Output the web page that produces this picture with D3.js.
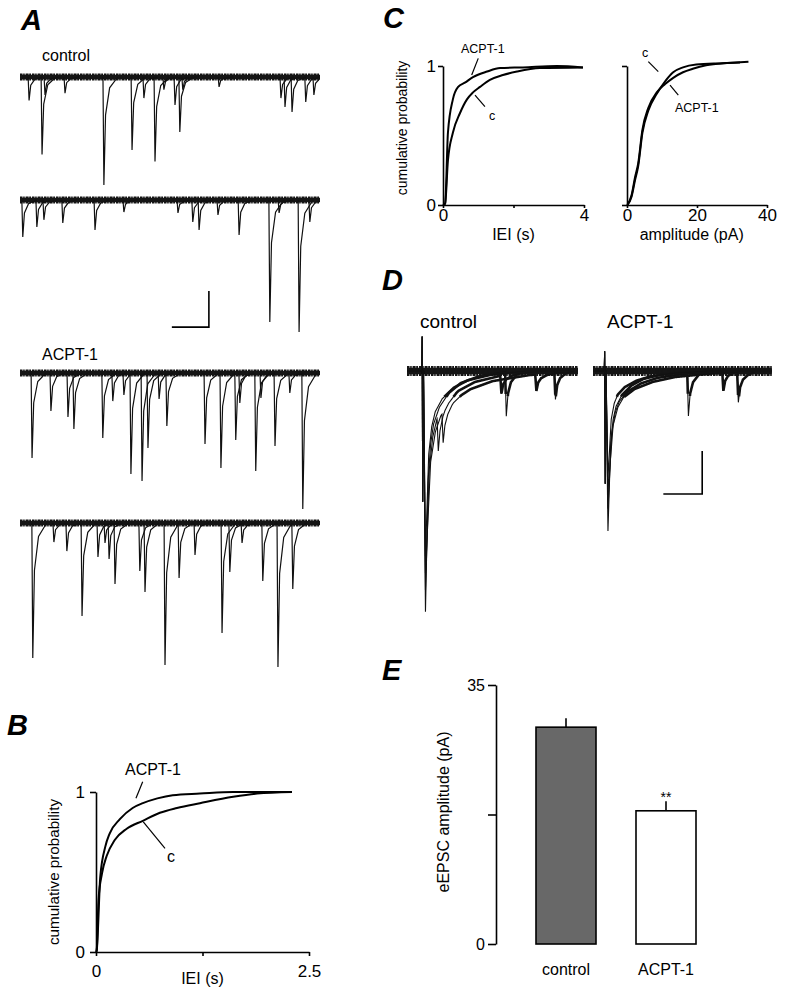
<!DOCTYPE html>
<html>
<head>
<meta charset="utf-8">
<script src="https://cdn.jsdelivr.net/npm/d3@7"></script>
<style>
body{margin:0;background:#fff}
svg{display:block;font-family:"Liberation Sans",Arial,sans-serif}
</style>
</head>
<body>
<script>
// ---- A: spontaneous events [time (s), amplitude (pA)] ----
const aCtrl1=[[0.22,13],[0.57,43],[0.65,10],[1.19,9],[2.24,60],[3.0,40.5],[3.32,11.7],[3.62,47],[3.86,7],[4.16,15.5],[4.29,30.5],[4.37,7],[5.35,5.5],[7.02,11.7],[7.13,16.7],[7.32,19.4],[7.69,13.9],[7.91,10]];
const aCtrl2=[[0.05,20.5],[0.43,15],[0.62,11],[1.13,12.8],[2.0,16.7],[2.78,6.7],[4.24,7.2],[4.64,12.2],[4.81,16.7],[5.32,8.3],[5.89,19.4],[6.72,67.8],[6.97,7.2],[7.51,73.3],[7.8,12.2]];
const aAcpt1=[[0.30,47.2],[0.81,21.1],[1.27,24.4],[1.43,31.1],[2.21,36.1],[2.48,15.6],[2.78,12.2],[2.97,56.1],[3.27,60],[3.43,41.7],[3.73,14.4],[3.94,29.4],[4.97,39.4],[5.4,52.8],[5.8,37.2],[5.91,16.7],[6.34,54.4],[6.48,13.9],[6.86,40.6],[7.26,11.1],[7.61,75.6]];
const aAcpt2=[[0.32,75],[0.89,10.6],[1.24,15.6],[1.65,51.7],[2.08,18.9],[2.27,11.1],[2.38,20],[2.54,33.9],[3.21,26.7],[3.35,38.3],[3.89,78.9],[4.27,30.6],[4.7,17.8],[5.43,61.1],[5.64,27.2],[5.97,11.1],[6.53,32.2],[6.94,80],[7.34,36.7]];
const aDuration=8.1;

// ---- B: cumulative IEI ----
const bIeiAcpt=[0,0.008,0.05,0.11,0.16,0.28,0.43,0.55,0.72,0.90,1.22,1.61,2.3];
const bProbAcpt=[0,0.01,0.47,0.66,0.74,0.83,0.90,0.93,0.96,0.98,0.99,1.0,1.0];
const bIeiCtrl=[0,0.008,0.03,0.07,0.125,0.22,0.36,0.55,0.75,0.95,1.22,1.61,1.89,2.3];
const bProbCtrl=[0,0.01,0.33,0.49,0.60,0.70,0.77,0.82,0.87,0.90,0.93,0.97,0.99,1.0];

// ---- C: cumulative IEI and amplitude ----
const cIeiAcpt=[0,0.06,0.14,0.28,0.43,0.62,0.85,1.25,1.62,2.27,3.23,3.97];
const cIeiProbAcpt=[0,0.01,0.52,0.76,0.85,0.88,0.92,0.96,0.985,0.99,1.0,0.99];
const cIeiCtrl=[0,0.06,0.14,0.28,0.48,0.68,0.85,1.05,1.33,1.7,2.1,2.75,3.97];
const cIeiProbCtrl=[0,0.01,0.32,0.52,0.66,0.76,0.81,0.85,0.90,0.935,0.96,0.985,0.99];
const cAmpCtrl=[0.1,1.3,2.3,3.2,4.4,6.1,8.5,10.9,13.2,16.0,19.8,27.5,34.7];
const cAmpProbCtrl=[0,0.06,0.18,0.28,0.52,0.68,0.80,0.89,0.955,0.99,1.01,1.02,1.03];
const cAmpAcpt=[0.1,1.3,2.3,3.2,4.4,6.1,8.5,10.9,13.2,16.0,18.8,22.6,27.5,32.3];
const cAmpProbAcpt=[0,0.07,0.2,0.3,0.54,0.70,0.81,0.87,0.915,0.955,0.98,1.005,1.02,1.025];

// ---- D: evoked EPSC sweeps ----
const dCtrlStim=7.7, dAcptStim=5.9;           // ms
const dCtrlEnd=88, dAcptEnd=92;
const dCtrlAmp=[280,255,235,215], dCtrlDecay=[1,1.4,1.9,1.2];
const dAcptAmp=[186,160,140,125], dAcptDecay=[1,1.4,1.9,1.2];
const dCtrlArtifact=[40,152], dAcptArtifact=[23,131];   // up, down (pA)
const dCtrlEvents=[[0,50.5,52],[1,48,21],[2,66,19],[3,75.8,33],[1,15.5,40],[2,18,35]]; // sweep, ms, pA
const dAcptEvents=[[0,48.5,52],[1,66.5,23],[2,74.2,35]];

// ---- E: eEPSC amplitude ----
const eGroups=["control","ACPT-1"];
const eMeans=[29.3,18.0];
const eSem=[1.2,1.3];
const eFill=["#686868","#ffffff"];

const W=787,H=999;
const FONT='"Liberation Sans",Arial,sans-serif';
const svg=d3.select("body").append("svg").attr("width",W).attr("height",H);
svg.append("rect").attr("width",W).attr("height",H).attr("fill","#fff");

function panelLetter(t,x,y){
  svg.append("text").attr("x",x).attr("y",y).text(t)
    .attr("font-size",29).attr("font-weight","bold").attr("font-style","italic");
}
function label(t,x,y,fs){
  return svg.append("text").attr("x",x).attr("y",y).text(t).attr("font-size",fs);
}
function styleAxis(g,fs){
  g.attr("font-family",FONT).attr("font-size",fs);
  g.select(".domain").attr("stroke","#000").attr("stroke-width",1.6);
  g.selectAll(".tick line").attr("stroke","#000").attr("stroke-width",1.6);
  g.selectAll(".tick text").attr("fill","#000");
}
function kern(pts,t){
  if(t<=pts[0][0]||t>=pts[pts.length-1][0]) return 0;
  for(let i=1;i<pts.length;i++){
    if(t<=pts[i][0]){
      const a=pts[i-1],b=pts[i];
      return a[1]+(b[1]-a[1])*(t-a[0])/(b[0]-a[0]);
    }
  }
  return 0;
}
// baseline noise band: solid core + mostly-solid ragged fringe
function noiseBand(g,d,core,fringe){
  g.append("path").attr("d",d).attr("stroke","#151515").attr("stroke-width",core).attr("fill","none");
  g.append("path").attr("d",d).attr("stroke","#151515").attr("stroke-width",fringe).attr("fill","none")
    .attr("stroke-dasharray","2.5 0.7 1.5 0.9 3 0.6 1.8 1");
}

// =============== A ===============
panelLetter("A",21,30);
label("control",42,61,16);
label("ACPT-1",42,360,16);
const xA=d3.scaleLinear().domain([0,aDuration]).range([20,320]);
const aBase=[77,200,373,523];
const aTraces=[aCtrl1,aCtrl2,aAcpt1,aAcpt2];
const spikeShape=[[0,0],[0.025,1],[0.07,0.35],[0.18,0.1],[0.4,0]];
const yAs=aBase.map(b=>d3.scaleLinear().domain([0,-20]).range([b,b+36]));
svg.append("clipPath").attr("id","clipA").append("rect")
  .attr("x",xA(0)).attr("y",0).attr("width",xA(aDuration)-xA(0)).attr("height",700);
aTraces.forEach((ev,i)=>{
  const yA=yAs[i];
  const g=svg.append("g").attr("clip-path","url(#clipA)");
  noiseBand(g,d3.line().x(d=>xA(d)).y(()=>yA(0))([0,aDuration]),4.5,7);
  ev.forEach(e=>{
    g.append("path")
      .attr("d",d3.line().x(k=>xA(e[0]+k[0])).y(k=>yA(-e[1]*k[1]))(spikeShape))
      .attr("stroke","#111").attr("stroke-width",1.2).attr("fill","none");
  });
});
// scale bar (1 s, 20 pA) placed in trace-2 coordinates
svg.append("path")
  .attr("d",d3.line().x(d=>xA(d[0])).y(d=>yAs[1](d[1]))([[4.1,-70.6],[5.1,-70.6],[5.1,-50.6]]))
  .attr("stroke","#000").attr("stroke-width",1.6).attr("fill","none");

// =============== B ===============
panelLetter("B",7,735);
const xB=d3.scaleLinear().domain([0,2.5]).range([96,309]);
const yB=d3.scaleLinear().domain([0,1]).range([952,792]);
const curveLine=(xs,ys,xS,yS)=>d3.line().x((d,i)=>xS(xs[i])).y((d,i)=>yS(ys[i])).curve(d3.curveMonotoneX)(xs);
[[bIeiCtrl,bProbCtrl],[bIeiAcpt,bProbAcpt]].forEach(s=>{
  svg.append("path").attr("d",curveLine(s[0],s[1],xB,yB))
    .attr("stroke","#000").attr("stroke-width",2).attr("fill","none");
});
styleAxis(svg.append("g").attr("transform","translate(0,952)")
  .call(d3.axisBottom(xB).tickValues([0,1.25,2.5]).tickFormat(d=>d===1.25?"":d)
  .tickSize(4).tickPadding(9).tickSizeOuter(0)),17);
styleAxis(svg.append("g").attr("transform","translate(96,0)")
  .call(d3.axisLeft(yB).tickValues([0,1]).tickFormat(d3.format("d"))
  .tickSize(6).tickPadding(5).tickSizeOuter(0)),17);
label("IEI (s)",xB(1.25),984,16).attr("text-anchor","middle");
svg.append("text").attr("transform","translate(59,872) rotate(-90)")
  .attr("text-anchor","middle").attr("font-size",15.2).text("cumulative probability");
function annot(xS,yS,txt,tx,ty,l1,l2,fs){
  svg.append("text").attr("x",xS(tx)).attr("y",yS(ty)).attr("font-size",fs).text(txt);
  svg.append("line").attr("x1",xS(l1[0])).attr("y1",yS(l1[1])).attr("x2",xS(l2[0])).attr("y2",yS(l2[1]))
    .attr("stroke","#000").attr("stroke-width",1.2);
}
annot(xB,yB,"ACPT-1",0.34,1.106,[0.548,1.064],[0.469,0.961],16);
annot(xB,yB,"c",0.833,0.5625,[0.555,0.814],[0.81,0.648],16);

// =============== C ===============
panelLetter("C",383,28);
const xC1=d3.scaleLinear().domain([0,4]).range([443,584]);
const xC2=d3.scaleLinear().domain([0,40]).range([627,767]);
const yC=d3.scaleLinear().domain([0,1]).range([205,66]);
[[cIeiCtrl,cIeiProbCtrl],[cIeiAcpt,cIeiProbAcpt]].forEach(s=>{
  svg.append("path").attr("d",curveLine(s[0],s[1],xC1,yC))
    .attr("stroke","#000").attr("stroke-width",2).attr("fill","none");
});
[[cAmpCtrl,cAmpProbCtrl],[cAmpAcpt,cAmpProbAcpt]].forEach(s=>{
  svg.append("path").attr("d",curveLine(s[0],s[1],xC2,yC))
    .attr("stroke","#000").attr("stroke-width",2).attr("fill","none");
});
styleAxis(svg.append("g").attr("transform","translate(0,205)")
  .call(d3.axisBottom(xC1).tickValues([0,2,4]).tickFormat(d=>d===2?"":d)
  .tickSize(3).tickPadding(1).tickSizeOuter(0)),17);
styleAxis(svg.append("g").attr("transform","translate(443,0)")
  .call(d3.axisLeft(yC).tickValues([0,1]).tickFormat(d3.format("d"))
  .tickSize(5).tickPadding(2).tickSizeOuter(0)),17);
styleAxis(svg.append("g").attr("transform","translate(0,205)")
  .call(d3.axisBottom(xC2).tickValues([0,20,40])
  .tickSize(3).tickPadding(1).tickSizeOuter(0)),17);
styleAxis(svg.append("g").attr("transform","translate(627,0)")
  .call(d3.axisLeft(yC).tickValues([0,1]).tickFormat("")
  .tickSize(5).tickSizeOuter(0)),17);
label("IEI (s)",xC1(2),240,16).attr("text-anchor","middle");
label("amplitude (pA)",xC2(18.5),240,16).attr("text-anchor","middle");
svg.append("text").attr("transform","translate(407,128) rotate(-90)")
  .attr("text-anchor","middle").attr("font-size",14).text("cumulative probability");
annot(xC1,yC,"ACPT-1",0.51,1.094,[1.0,1.055],[0.814,0.935],12.5);
annot(xC1,yC,"c",1.305,0.612,[0.908,0.791],[1.19,0.707],12.5);
annot(xC2,yC,"c",4.29,1.065,[6.09,1.031],[8.94,0.959],12.5);
annot(xC2,yC,"ACPT-1",13.7,0.669,[12.29,0.863],[14.66,0.791],12.5);

// =============== D ===============
panelLetter("D",382,290);
label("control",420,328,19);
label("ACPT-1",607,328,19);
const yD=d3.scaleLinear().domain([0,-50]).range([371,414]);
const xDc=d3.scaleLinear().domain([0,dCtrlEnd]).range([407,407+dCtrlEnd*1.943]);
const xDa=d3.scaleLinear().domain([0,dAcptEnd]).range([593,593+dAcptEnd*1.943]);
const epscDecay=[[0,1],[1.4,0.45],[2.7,0.3],[4.2,0.22],[7.2,0.15],[12.2,0.09],[18.2,0.05],[28.2,0.02],[43,0]];
const evShape=[[0,0],[0.6,1],[1.5,0.5],[3,0.25],[6,0.08],[10,0]];
function drawSweeps(xS,stim,end,amps,decays,art,events){
  const g=svg.append("g");
  const ts=d3.range(0,end+0.001,0.05);
  noiseBand(g,d3.line().x(d=>xS(d)).y(()=>yD(0))([0,end]),6.5,10);
  amps.forEach((amp,si)=>{
    const dec=[[0.8,0]].concat(epscDecay.map(p=>[1.8+p[0]*decays[si],p[1]]));
    const artShape=[[-0.1,0],[0.1,art[0]],[0.4,-art[1]],[0.7,0]];
    const vals=ts.map(t=>{
      let v=kern(artShape,t-stim)-amp*kern(dec,t-stim);
      events.filter(e=>e[0]===si).forEach(e=>{v-=e[2]*kern(evShape,t-e[1]);});
      return [t,v];
    });
    // thicker stroke on the slow tail, where the recording noise shows
    g.append("path").attr("d",d3.line().defined(d=>d[0]>stim+6&&Math.abs(d[1])<30)
        .x(d=>xS(d[0])).y(d=>yD(d[1]))(vals))
      .attr("stroke","#151515").attr("stroke-width",2.6).attr("fill","none");
    g.append("path").attr("d",d3.line().x(d=>xS(d[0])).y(d=>yD(d[1]))(vals))
      .attr("stroke","#111").attr("stroke-width",1.1).attr("fill","none");
  });
}
drawSweeps(xDc,dCtrlStim,dCtrlEnd,dCtrlAmp,dCtrlDecay,dCtrlArtifact,dCtrlEvents);
drawSweeps(xDa,dAcptStim,dAcptEnd,dAcptAmp,dAcptDecay,dAcptArtifact,dAcptEvents);
// scale bar (20 ms, 50 pA)
svg.append("path")
  .attr("d",d3.line().x(d=>xDa(d[0])).y(d=>yD(d[1]))([[36.2,-143],[56.2,-143],[56.2,-93]]))
  .attr("stroke","#000").attr("stroke-width",1.6).attr("fill","none");

// =============== E ===============
panelLetter("E",382,680);
const xE=d3.scaleBand().domain(eGroups).range([516,716]).paddingInner(0.4).paddingOuter(0.2);
const yE=d3.scaleLinear().domain([0,35]).range([944,685]);
eGroups.forEach((gname,i)=>{
  svg.append("line").attr("x1",xE(gname)+xE.bandwidth()/2).attr("x2",xE(gname)+xE.bandwidth()/2)
    .attr("y1",yE(eMeans[i])).attr("y2",yE(eMeans[i]+eSem[i]))
    .attr("stroke","#000").attr("stroke-width",1.6);
  svg.append("rect").attr("x",xE(gname)).attr("width",xE.bandwidth())
    .attr("y",yE(eMeans[i])).attr("height",yE(0)-yE(eMeans[i]))
    .attr("fill",eFill[i]).attr("stroke","#000").attr("stroke-width",1.6);
  label(gname,xE(gname)+xE.bandwidth()/2,975,16).attr("text-anchor","middle");
});
label("**",xE("ACPT-1")+xE.bandwidth()/2,yE(eMeans[1]+eSem[1])+1,14).attr("text-anchor","middle");
styleAxis(svg.append("g").attr("transform","translate(496,0)")
  .call(d3.axisLeft(yE).tickValues([0,17.5,35]).tickFormat(d=>d===17.5?"":d)
  .tickSize(8).tickPadding(3).tickSizeOuter(0)),16);
svg.append("text").attr("transform","translate(449,812) rotate(-90)")
  .attr("text-anchor","middle").attr("font-size",16).text("eEPSC amplitude (pA)");
</script>
</body>
</html>
